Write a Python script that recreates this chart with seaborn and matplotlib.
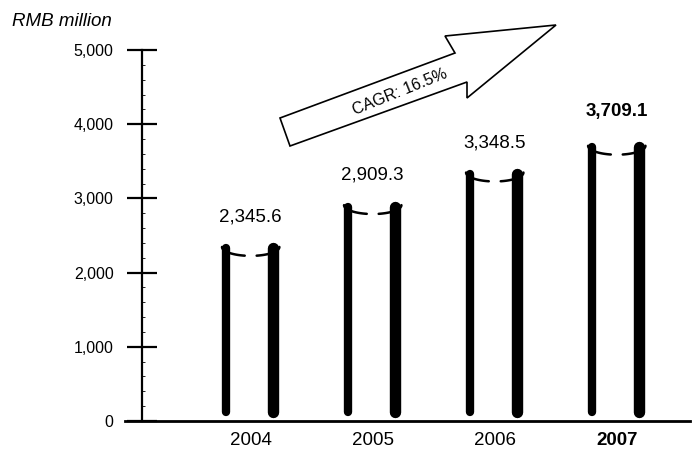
import matplotlib
matplotlib.use("Agg")
import matplotlib.pyplot as plt
from matplotlib.patches import Polygon
from matplotlib.ticker import MultipleLocator, StrMethodFormatter
import numpy as np
import pandas as pd
import seaborn as sns

# Revenue by year (RMB million)
years = ["2004", "2005", "2006", "2007"]
revenue = [2345.6, 2909.3, 3348.5, 3709.1]
cagr_label = "CAGR: 16.5%"
unit_label = "RMB million"

sns.set_style("white")
plt.rcParams["font.family"] = ["Liberation Sans", "DejaVu Sans"]
plt.rcParams["text.color"] = "black"
plt.rcParams["xtick.color"] = "black"
plt.rcParams["ytick.color"] = "black"

W, H = 692, 450
fig = plt.figure(figsize=(W / 100, H / 100), dpi=100)
ax = fig.add_axes([125 / W, 29 / H, 565 / W, 371 / H])

df = pd.DataFrame({"year": years, "revenue": revenue})
sns.barplot(data=df, x="year", y="revenue", color="white", saturation=1,
            width=0.47, edgecolor="none", ax=ax)
bars = list(ax.patches)

ax.set_xlim(-1.03, 3.6)
ax.set_ylim(0, 5000)

# Cylinder look: dark sides, open curved top rim
rim_depth = 120
for p in bars:
    x0, w, h = p.get_x(), p.get_width(), p.get_height()
    cx = x0 + w / 2
    ax.plot([x0 + 0.035, x0 + 0.035], [120, h - 20], color="black", lw=6.0,
            solid_capstyle="round", zorder=3)
    ax.plot([x0 + w - 0.05, x0 + w - 0.05], [120, h - 20], color="black", lw=8.2,
            solid_capstyle="round", zorder=3)
    for a0, a1 in [(180, 258), (282, 360)]:
        t = np.radians(np.linspace(a0, a1, 50))
        ax.plot(cx + w / 2 * np.cos(t), h + rim_depth * np.sin(t),
                color="black", lw=1.8, solid_capstyle="round", zorder=4)

# Value labels above the bars
for i, (p, v) in enumerate(zip(bars, revenue)):
    cx = p.get_x() + p.get_width() / 2
    bold = i == len(revenue) - 1
    ax.annotate(f"{v:,.1f}", xy=(cx, p.get_height()), xytext=(0, 25 if bold else 21.5),
                textcoords="offset points", ha="center", va="center",
                fontsize=13.5, fontweight="bold" if bold else "normal",
                color="black")

# Axes styling
for s in ["top", "right"]:
    ax.spines[s].set_visible(False)
ax.spines["left"].set_position(("axes", 17 / 565))
ax.spines["left"].set_linewidth(1.6)
ax.spines["left"].set_color("black")
ax.spines["bottom"].set_linewidth(2.0)
ax.spines["bottom"].set_color("black")

ax.yaxis.set_major_locator(MultipleLocator(1000))
ax.yaxis.set_minor_locator(MultipleLocator(200))
ax.yaxis.set_major_formatter(StrMethodFormatter("{x:,.0f}"))
ax.tick_params(axis="y", which="major", direction="inout", length=21, width=1.6,
               pad=10, labelsize=11.5, colors="black", left=True)
ax.tick_params(axis="y", which="minor", direction="in", length=1.8, width=0.6,
               left=True, colors="black")
ax.tick_params(axis="x", length=0, pad=8, labelsize=13.5, colors="black")
ax.set_xlabel("")
ax.set_ylabel("")
ax.get_xticklabels()[-1].set_fontweight("bold")

fig.text(12 / W, 1 - 21 / H, unit_label, fontsize=13.5, fontstyle="italic",
         ha="left", va="center", color="black")

# Growth arrow
arrow_px = [(280, 118), (455, 53), (445, 36), (556, 25),
            (467, 98), (467, 82), (290, 146)]
arrow_fig = [(x / W, 1 - y / H) for x, y in arrow_px]
fig.add_artist(Polygon(arrow_fig, closed=True, facecolor="white",
                       edgecolor="black", lw=1.2, transform=fig.transFigure,
                       zorder=5))
fig.text(400 / W, 1 - 92 / H, cagr_label, fontsize=11.5, rotation=22,
         rotation_mode="anchor", ha="center", va="center", zorder=6,
         color="black")

fig.savefig("out.png", dpi=100)
